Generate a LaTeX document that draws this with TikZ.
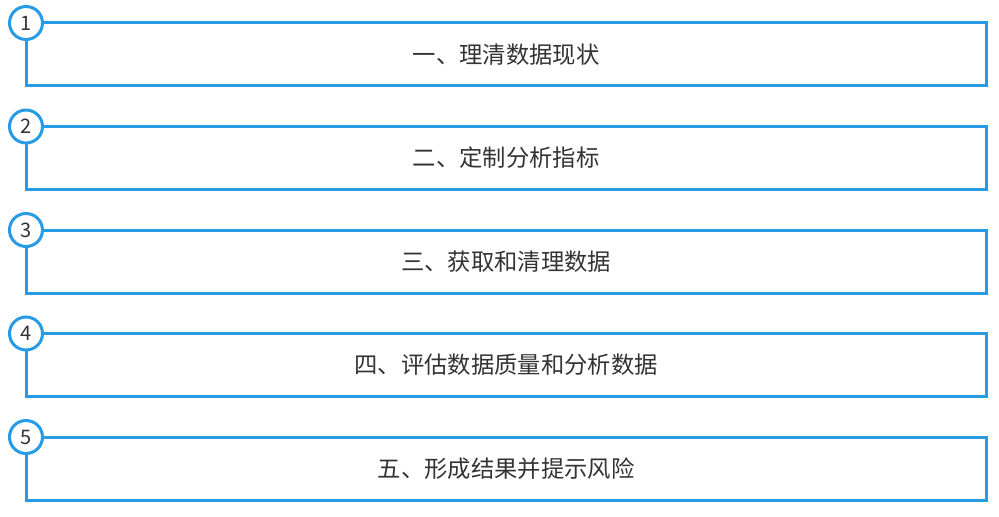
\documentclass[tikz,border=0pt]{standalone}
\usepackage{fontspec}
\setmainfont{Noto Sans CJK SC}
\usetikzlibrary{positioning}
\definecolor{lineblue}{RGB}{40,155,230}
\definecolor{textgray}{RGB}{51,51,51}
\tikzset{
  stepbox/.style={draw=lineblue, line width=2.25pt, minimum width=720pt,
    minimum height=47.25pt, inner sep=0pt, outer sep=0pt, text=textgray,
    font=\fontsize{17.5pt}{20pt}\selectfont},
  num/.style={circle, draw=lineblue, fill=white, line width=2.25pt,
    minimum size=24.75pt, inner sep=0pt, outer sep=0pt, text=textgray,
    font=\fontsize{15pt}{16pt}\selectfont}
}
\begin{document}
\begin{tikzpicture}[node distance=30.375pt]
    \useasboundingbox (0,0) rectangle (749.25pt,-387.75pt);

    \node[stepbox, anchor=north west] (s1) at (19.5pt,-17.25pt) {一、理清数据现状};
    \node[stepbox] (s2) [below=of s1] {二、定制分析指标};
    \node[stepbox] (s3) [below=of s2] {三、获取和清理数据};
    \node[stepbox] (s4) [below=of s3] {四、评估数据质量和分析数据};
    \node[stepbox] (s5) [below=of s4] {五、形成结果并提示风险};

    \node[num] (c1) at (s1.north west) {1};
    \node[num] (c2) at (s2.north west) {2};
    \node[num] (c3) at (s3.north west) {3};
    \node[num] (c4) at (s4.north west) {4};
    \node[num] (c5) at (s5.north west) {5};
  \end{tikzpicture}
\end{document}
